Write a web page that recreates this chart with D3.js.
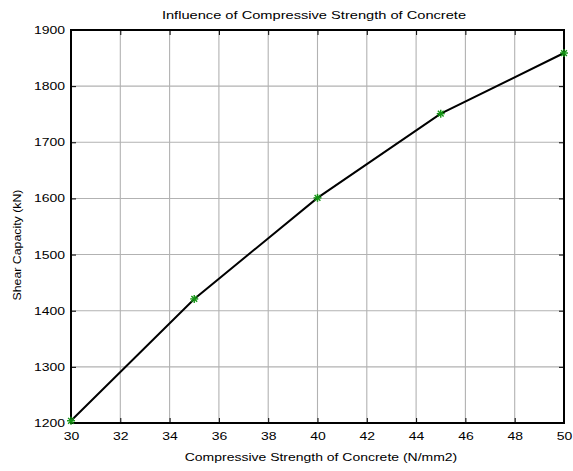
<!DOCTYPE html>
<html>
<head>
<meta charset="utf-8">
<script src="https://cdn.jsdelivr.net/npm/d3@7"></script>
<style>
  html, body { margin: 0; padding: 0; background: #fff; }
  svg { display: block; font-family: "Liberation Sans", Arial, sans-serif; }
</style>
</head>
<body>
<svg id="chart" width="573" height="471"></svg>
<script>
// Compressive strength of concrete (N/mm2) vs shear capacity (kN)
const strength = [30, 35, 40, 45, 50];
const shearCapacity = [1204, 1421, 1601, 1751, 1859];
const xTicks = [30, 32, 34, 36, 38, 40, 42, 44, 46, 48, 50];
const yTicks = [1200, 1300, 1400, 1500, 1600, 1700, 1800, 1900];

const svg = d3.select("#chart");
const box = { left: 71, right: 564, top: 30, bottom: 423 };
const stretch = 1.27; // wide Helvetica-style lettering

const x = d3.scaleLinear().domain([30, 50]).range([box.left, box.right]);
const y = d3.scaleLinear().domain([1200, 1900]).range([box.bottom, box.top]);

const points = strength.map((s, i) => ({ s, v: shearCapacity[i] }));

// widen a text element horizontally while keeping its anchor
function widen(sel, factor) {
  sel.each(function () {
    const w = this.getComputedTextLength();
    d3.select(this).attr("textLength", w * factor).attr("lengthAdjust", "spacingAndGlyphs");
  });
}

// grid lines
const grid = svg.append("g").attr("stroke", "#b2b2b2").attr("stroke-width", 1.1);
grid.selectAll("line.gx").data(xTicks.slice(1, -1)).join("line")
  .attr("x1", d => x(d)).attr("x2", d => x(d))
  .attr("y1", box.top).attr("y2", box.bottom);
grid.selectAll("line.gy").data(yTicks.slice(1, -1)).join("line")
  .attr("y1", d => y(d)).attr("y2", d => y(d))
  .attr("x1", box.left).attr("x2", box.right);

// axes with inward ticks on all four sides
const tickLen = 5;
const bottomAxis = d3.axisBottom(x).tickValues(xTicks).tickSize(-tickLen).tickPadding(9).tickFormat(d3.format("d"));
const topAxis = d3.axisTop(x).tickValues(xTicks).tickSize(-tickLen).tickFormat("");
const leftAxis = d3.axisLeft(y).tickValues(yTicks).tickSize(-tickLen).tickPadding(6).tickFormat(d3.format("d"));
const rightAxis = d3.axisRight(y).tickValues(yTicks).tickSize(-tickLen).tickFormat("");

function styleAxis(g) {
  g.select(".domain").remove();
  g.selectAll(".tick line").attr("stroke", "#000").attr("stroke-width", 1);
  g.selectAll(".tick text").attr("fill", "#000").attr("font-size", 11)
    .attr("font-family", "Liberation Sans, Arial, sans-serif")
    .call(widen, stretch);
}

svg.append("g").attr("transform", `translate(0,${box.bottom})`).call(bottomAxis).call(styleAxis);
svg.append("g").attr("transform", `translate(0,${box.top})`).call(topAxis).call(styleAxis);
svg.append("g").attr("transform", `translate(${box.left},0)`).call(leftAxis).call(styleAxis);
svg.append("g").attr("transform", `translate(${box.right},0)`).call(rightAxis).call(styleAxis);

// frame
svg.append("rect")
  .attr("x", box.left).attr("y", box.top)
  .attr("width", box.right - box.left).attr("height", box.bottom - box.top)
  .attr("fill", "none").attr("stroke", "#000").attr("stroke-width", 2);

// data line
const line = d3.line().x(d => x(d.s)).y(d => y(d.v));
svg.append("path").datum(points)
  .attr("d", line).attr("fill", "none")
  .attr("stroke", "#000").attr("stroke-width", 2);

// star markers
const star = svg.append("g").attr("stroke", "#139413").attr("stroke-width", 1.4);
const r = 4;
star.selectAll("g").data(points).join("g")
  .attr("transform", d => `translate(${x(d.s)},${y(d.v)})`)
  .each(function () {
    const g = d3.select(this);
    const k = r * 0.72;
    g.append("line").attr("x1", -r).attr("x2", r).attr("y1", 0).attr("y2", 0);
    g.append("line").attr("x1", 0).attr("x2", 0).attr("y1", -r).attr("y2", r);
    g.append("line").attr("x1", -k).attr("x2", k).attr("y1", -k).attr("y2", k);
    g.append("line").attr("x1", -k).attr("x2", k).attr("y1", k).attr("y2", -k);
  });

// titles
svg.append("text")
  .attr("x", 314).attr("y", 19)
  .attr("text-anchor", "middle").attr("font-size", 11)
  .text("Influence of Compressive Strength of Concrete")
  .call(widen, 1.33);

svg.append("text")
  .attr("x", 321).attr("y", 461)
  .attr("text-anchor", "middle").attr("font-size", 11)
  .text("Compressive Strength of Concrete (N/mm2)")
  .call(widen, stretch);

svg.append("text")
  .attr("transform", "translate(21,245) rotate(-90)")
  .attr("text-anchor", "middle").attr("font-size", 11)
  .text("Shear Capacity (kN)")
  .call(widen, 1.12);
</script>
</body>
</html>
